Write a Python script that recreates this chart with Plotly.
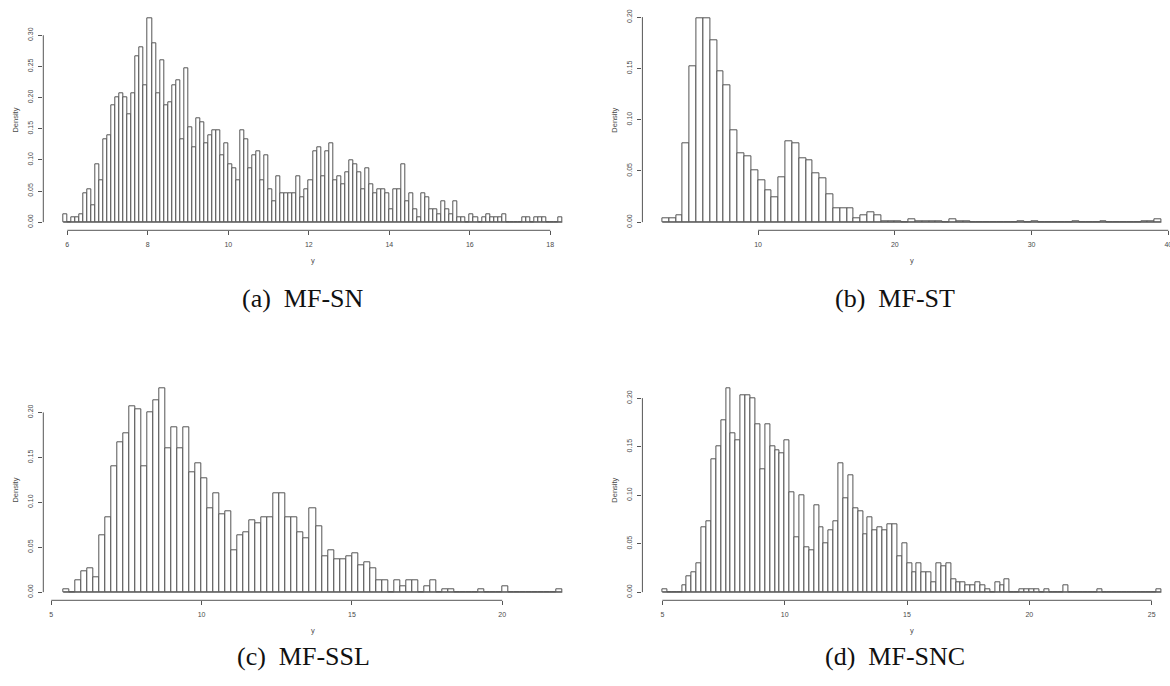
import numpy as np
import plotly.graph_objects as go

# ---------------- data (densities) ----------------
# (a) MF-SN : bins of width 0.1 starting at 5.9
sn_start, sn_width = 5.9, 0.1
sn_density = [
    0.013, 0, 0.007, 0.007, 0.013, 0.047, 0.053, 0.027, 0.093, 0.067,
    0.133, 0.140, 0.187, 0.200, 0.207, 0.200, 0.173, 0.207, 0.267, 0.280,
    0.220, 0.327, 0.287, 0.207, 0.260, 0.187, 0.193, 0.220, 0.227, 0.133,
    0.247, 0.153, 0.120, 0.167, 0.160, 0.127, 0.140, 0.147, 0.147, 0.107,
    0.127, 0.093, 0.087, 0.067, 0.147, 0.133, 0.087, 0.107, 0.113, 0.067,
    0.107, 0.053, 0.033, 0.073, 0.047, 0.047, 0.047, 0.047, 0.073, 0.040,
    0.053, 0.067, 0.113, 0.120, 0.073, 0.113, 0.127, 0.067, 0.073, 0.060,
    0.080, 0.100, 0.093, 0.080, 0.053, 0.087, 0.060, 0.047, 0.053, 0.053,
    0.047, 0.020, 0.053, 0.053, 0.093, 0.033, 0.047, 0.020, 0.007, 0.047,
    0.040, 0.020, 0.020, 0.013, 0.033, 0.020, 0.013, 0.033, 0.007, 0.007,
    0, 0.013, 0.007, 0, 0.007, 0.013, 0.007, 0.007, 0.007, 0.013,
    0, 0, 0, 0, 0.007, 0.007, 0, 0.007, 0.007, 0.007,
    0, 0, 0, 0.007,
]
sn_xticks = [6, 8, 10, 12, 14, 16, 18]
sn_yticks = [0.00, 0.05, 0.10, 0.15, 0.20, 0.25, 0.30]

# (b) MF-ST : bins of width 0.5 starting at 3.0
st_start, st_width = 3.0, 0.5
st_density = [
    0.0040, 0.0040, 0.0067, 0.0773, 0.1520, 0.1987, 0.1987, 0.1773, 0.1467, 0.1333,
    0.0893, 0.0667, 0.0640, 0.0507, 0.0413, 0.0307, 0.0240, 0.0440, 0.0787, 0.0773,
    0.0627, 0.0600, 0.0480, 0.0427, 0.0267, 0.0133, 0.0133, 0.0133, 0.0040, 0.0067,
    0.0093, 0.0067, 0.0013, 0.0013, 0.0013, 0, 0.0027, 0.0013, 0.0013, 0.0013,
    0.0013, 0, 0.0027, 0.0013, 0.0013, 0, 0, 0, 0, 0,
    0, 0, 0.0013, 0, 0.0013, 0, 0, 0, 0, 0,
    0.0013, 0, 0, 0, 0.0013, 0, 0, 0, 0, 0,
    0.0013, 0.0013, 0.0027,
]
st_xticks = [10, 20, 30, 40]
st_yticks = [0.00, 0.05, 0.10, 0.15, 0.20]

# (c) MF-SSL : bins of width 0.2 starting at 5.4
ssl_start, ssl_width = 5.4, 0.2
ssl_density = [
    0.0033, 0, 0.0133, 0.0233, 0.0267, 0.0167, 0.0633, 0.0833, 0.1400, 0.1667,
    0.1767, 0.2067, 0.2033, 0.1400, 0.2000, 0.2133, 0.2267, 0.1600, 0.1833, 0.1600,
    0.1833, 0.1333, 0.1433, 0.1267, 0.0933, 0.1100, 0.0867, 0.0900, 0.0467, 0.0633,
    0.0667, 0.0800, 0.0767, 0.0833, 0.0833, 0.1100, 0.1100, 0.0833, 0.0833, 0.0667,
    0.0600, 0.0933, 0.0733, 0.0400, 0.0467, 0.0367, 0.0367, 0.0400, 0.0433, 0.0300,
    0.0333, 0.0267, 0.0133, 0.0133, 0, 0.0133, 0.0067, 0.0133, 0.0133, 0,
    0.0067, 0.0133, 0, 0.0033, 0.0033, 0, 0, 0, 0, 0.0033,
    0, 0, 0, 0.0067, 0, 0, 0, 0, 0, 0,
    0, 0, 0.0033,
]
ssl_xticks = [5, 10, 15, 20]
ssl_yticks = [0.00, 0.05, 0.10, 0.15, 0.20]

# (d) MF-SNC : bins of width 0.2 starting at 5.0
snc_start, snc_width = 5.0, 0.2
snc_density = [
    0.0033, 0, 0, 0, 0.0067, 0.0167, 0.0200, 0.0300, 0.0667, 0.0733,
    0.1367, 0.1500, 0.1767, 0.2100, 0.1633, 0.1567, 0.2033, 0.2033, 0.2000, 0.1733,
    0.1267, 0.1733, 0.1500, 0.1467, 0.1433, 0.1567, 0.1033, 0.0567, 0.1000, 0.0467,
    0.0433, 0.0900, 0.0667, 0.0500, 0.0633, 0.0733, 0.1333, 0.0967, 0.1200, 0.0867,
    0.0833, 0.0600, 0.0767, 0.0633, 0.0667, 0.0633, 0.0700, 0.0700, 0.0367, 0.0500,
    0.0300, 0.0200, 0.0300, 0.0200, 0.0200, 0.0100, 0.0300, 0.0267, 0.0300, 0.0133,
    0.0100, 0.0100, 0.0067, 0.0067, 0.0100, 0.0067, 0.0033, 0, 0.0100, 0.0067,
    0.0133, 0, 0, 0.0033, 0.0033, 0.0033, 0.0033, 0, 0.0033, 0,
    0, 0, 0.0067, 0, 0, 0, 0, 0, 0, 0.0033,
    0, 0, 0, 0, 0, 0, 0, 0, 0, 0,
    0, 0.0033,
]
snc_xticks = [5, 10, 15, 20, 25]
snc_yticks = [0.00, 0.05, 0.10, 0.15, 0.20]

captions = ["(a)\u2002MF-SN", "(b)\u2002MF-ST", "(c)\u2002MF-SSL", "(d)\u2002MF-SNC"]

# ---------------- layout geometry (pixels) ----------------
W, H = 1170, 686
col_left = [43.3, 642.4]      # left edge of plot region for each column
plot_w = 539.0                # R plot region width
row_top = [10.3, 380.3]       # top edge of plot region for each row
plot_h = 220.0
caption_pos = [(303, 298), (895, 298), (303, 656), (895, 656)]

panels = [
    (sn_start, sn_width, sn_density, sn_xticks, sn_yticks, 0, 0),
    (st_start, st_width, st_density, st_xticks, st_yticks, 0, 1),
    (ssl_start, ssl_width, ssl_density, ssl_xticks, ssl_yticks, 1, 0),
    (snc_start, snc_width, snc_density, snc_xticks, snc_yticks, 1, 1),
]

LINE = "#555555"
TXT = "#4a4a4a"
fig = go.Figure()
shapes = []
annotations = []
layout = {}

for i, (start, width, dens, xt, yt, row, col) in enumerate(panels):
    sfx = "" if i == 0 else str(i + 1)
    dens = np.array(dens, dtype=float)
    n = len(dens)
    edges = start + width * np.arange(n + 1)
    centers = (edges[:-1] + edges[1:]) / 2

    fig.add_trace(go.Bar(
        x=centers, y=dens, width=width,
        marker=dict(color="white", line=dict(color=LINE, width=1)),
        xaxis="x" + sfx, yaxis="y" + sfx, showlegend=False, hoverinfo="x+y",
    ))

    # R-style ranges (4% extension)
    lo, hi = edges[0], edges[-1]
    xr = [lo - 0.04 * (hi - lo), hi + 0.04 * (hi - lo)]
    ymax = dens.max()
    yr = [-0.04 * ymax, ymax * 1.04]

    L = col_left[col]
    R = L + plot_w
    if R > W:  # the reference is cropped at the right edge
        frac = (W - L) / plot_w
        xr = [xr[0], xr[0] + frac * (xr[1] - xr[0])]
        R = W
    top = row_top[row]
    bot = top + plot_h

    axis_common = dict(showgrid=False, zeroline=False, showline=False, automargin=False,
                       ticks="outside", ticklen=4, tickwidth=1, tickcolor=LINE,
                       ticklabeloverflow="allow",
                       tickfont=dict(family="Liberation Sans, Arial", size=7, color=TXT))
    layout["xaxis" + sfx] = dict(axis_common, domain=[L / W, R / W], range=xr,
                                 anchor="y" + sfx, tickvals=xt,
                                 ticktext=[str(v) for v in xt], ticklabelstandoff=3)
    layout["yaxis" + sfx] = dict(axis_common, domain=[1 - bot / H, 1 - top / H], range=yr,
                                 anchor="x" + sfx, tickvals=yt,
                                 ticktext=["%.2f" % v for v in yt], tickangle=-90,
                                 ticklabelstandoff=3)

    xa, ya = "x" + sfx, "y" + sfx
    # axis lines spanning first to last tick (R style)
    shapes.append(dict(type="line", xref=xa, yref=ya + " domain",
                       x0=xt[0], x1=xt[-1], y0=0, y1=0,
                       line=dict(color=LINE, width=1)))
    shapes.append(dict(type="line", xref=xa + " domain", yref=ya,
                       x0=0, x1=0, y0=yt[0], y1=yt[-1],
                       line=dict(color=LINE, width=1)))
    # baseline under empty bins
    shapes.append(dict(type="line", xref=xa, yref=ya,
                       x0=edges[0], x1=edges[-1], y0=0, y1=0,
                       line=dict(color=LINE, width=1)))

    # axis titles
    annotations.append(dict(text="Density", xref="paper", yref="paper",
                            x=(L - 28) / W, y=1 - (top + plot_h / 2) / H,
                            textangle=-90, showarrow=False,
                            font=dict(family="Liberation Sans, Arial", size=7.5, color=TXT),
                            xanchor="center", yanchor="middle"))
    annotations.append(dict(text="y", xref="paper", yref="paper",
                            x=(col_left[col] + plot_w / 2) / W, y=1 - (bot + 30) / H,
                            showarrow=False,
                            font=dict(family="Liberation Sans, Arial", size=7.5, color=TXT),
                            xanchor="center", yanchor="middle"))
    cx, cy = caption_pos[i]
    annotations.append(dict(text=captions[i], xref="paper", yref="paper",
                            x=cx / W, y=1 - cy / H, showarrow=False,
                            font=dict(family="Liberation Serif, serif", size=26, color="#111111"),
                            xanchor="center", yanchor="middle"))

fig.update_layout(**layout)
fig.update_layout(width=W, height=H, margin=dict(l=0, r=0, t=0, b=0, autoexpand=False),
                  paper_bgcolor="white", plot_bgcolor="white",
                  shapes=shapes, annotations=annotations, bargap=0)
fig.write_html("out.html", config={"displayModeBar": False},
               post_script="document.body.style.margin='0px';document.body.style.overflow='hidden';")
